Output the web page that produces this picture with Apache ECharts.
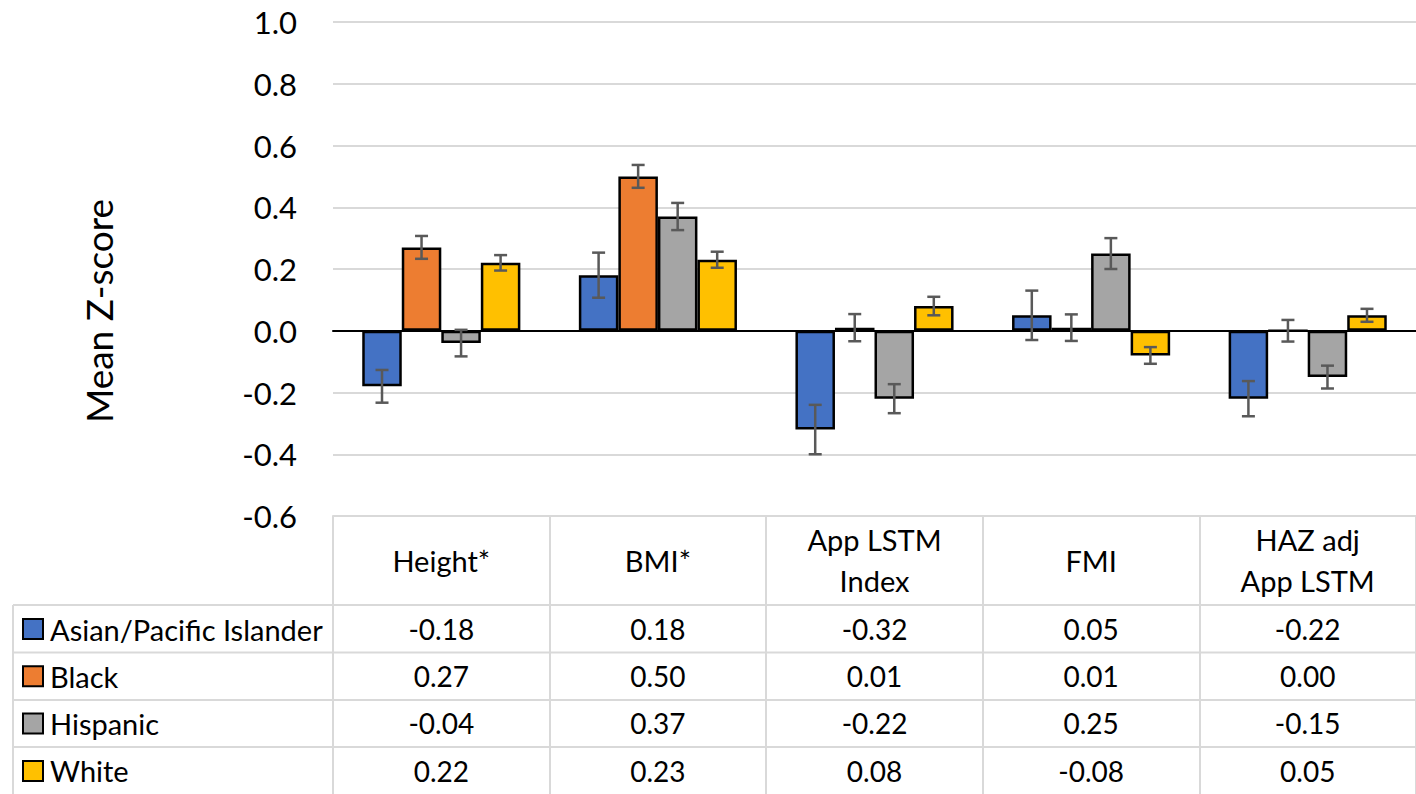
<!DOCTYPE html>
<html>
<head>
<meta charset="utf-8">
<script src="https://cdn.jsdelivr.net/npm/echarts@6/dist/echarts.min.js"></script>
<style>
  html, body { margin: 0; padding: 0; background: #fff; }
  #chart { width: 1416px; height: 794px; }
</style>
</head>
<body>
<div id="chart"></div>
<script>
var categories = ['Height*', 'BMI*', 'App LSTM\nIndex', 'FMI', 'HAZ adj\nApp LSTM'];
var groups = ['Asian/Pacific Islander', 'Black', 'Hispanic', 'White'];

var asianValues = [-0.18, 0.18, -0.32, 0.05, -0.22];
var blackValues = [0.27, 0.50, 0.01, 0.01, 0.00];
var hispanicValues = [-0.04, 0.37, -0.22, 0.25, -0.15];
var whiteValues = [0.22, 0.23, 0.08, -0.08, 0.05];

// half-length of the error bars
var asianErrors = [0.053, 0.073, 0.08, 0.08, 0.057];
var blackErrors = [0.037, 0.037, 0.044, 0.043, 0.035];
var hispanicErrors = [0.043, 0.044, 0.047, 0.05, 0.037];
var whiteErrors = [0.025, 0.026, 0.03, 0.027, 0.021];

var yMin = -0.6, yMax = 1.0, yStep = 0.2;

var colors = ['#4472C4', '#ED7D31', '#A5A5A5', '#FFC000'];
var FONT = 'Lato, "Open Sans", sans-serif';
var BAR_GAP = 0.27;
var GRID_LEFT = 333, GRID_TOP = 22, GRID_BOTTOM = 278;
var ROW_LINES = [605, 652.5, 700, 747];
var ROW_H = 47.3;
var LINE_COLOR = '#d9d9d9';

var chart = echarts.init(document.getElementById('chart'), null, {renderer: 'svg'});

var valueSets = [asianValues, blackValues, hispanicValues, whiteValues];
var errorSets = [asianErrors, blackErrors, hispanicErrors, whiteErrors];

function barSeries(idx) {
    return {
        name: groups[idx],
        type: 'bar',
        xAxisIndex: 0,
        barGap: 0,
        barCategoryGap: (BAR_GAP * 100) + '%',
        itemStyle: {color: colors[idx], borderColor: '#000', borderWidth: 2.5},
        emphasis: {disabled: true},
        data: valueSets[idx]
    };
}

function errorSeries(idx) {
    var values = valueSets[idx], errors = errorSets[idx];
    return {
        name: groups[idx] + ' error',
        type: 'custom',
        xAxisIndex: 0,
        z: 5,
        silent: true,
        encode: {x: 0, y: [1, 2]},
        data: values.map(function (v, i) {
            return [i, v - errors[i], v + errors[i]];
        }),
        renderItem: function (params, api) {
            var catW = api.size([1, 0])[0];
            var barW = catW * (1 - BAR_GAP) / 4;
            var off = (idx - 1.5) * barW;
            var lo = api.coord([api.value(0), api.value(1)]);
            var hi = api.coord([api.value(0), api.value(2)]);
            var x = lo[0] + off;
            var style = {stroke: '#595959', lineWidth: 2.5};
            return {
                type: 'group',
                children: [
                    {type: 'line', shape: {x1: x, y1: lo[1], x2: x, y2: hi[1]}, style: style},
                    {type: 'line', shape: {x1: x - 6.5, y1: lo[1], x2: x + 6.5, y2: lo[1]}, style: style},
                    {type: 'line', shape: {x1: x - 6.5, y1: hi[1], x2: x + 6.5, y2: hi[1]}, style: style}
                ]
            };
        }
    };
}

var series = [];
for (var i = 0; i < groups.length; i++) series.push(barSeries(i));
for (i = 0; i < groups.length; i++) series.push(errorSeries(i));

var option = {
    animation: false,
    color: colors,
    grid: {left: GRID_LEFT, right: 0, top: GRID_TOP, bottom: GRID_BOTTOM},
    legend: {
        data: groups,
        orient: 'vertical',
        left: 22,
        top: 614.5,
        padding: 0,
        itemWidth: 20,
        itemHeight: 20,
        itemGap: 18.3,
        icon: 'rect',
        selectedMode: false,
        textStyle: {fontFamily: FONT, fontSize: 29, lineHeight: 29, color: '#000', padding: [0, 0, 0, 2]}
    },
    xAxis: [
        {
            type: 'category',
            data: categories,
            position: 'bottom',
            axisLine: {onZero: false, lineStyle: {color: LINE_COLOR, width: 2}},
            axisTick: {show: true, length: 280, lineStyle: {color: LINE_COLOR, width: 2}},
            axisLabel: {
                interval: 0,
                margin: 44,
                verticalAlign: 'middle',
                fontFamily: FONT,
                fontSize: 29,
                lineHeight: 41,
                color: '#000'
            }
        },
        {
            type: 'category',
            data: categories,
            position: 'top',
            axisLine: {onZero: true, lineStyle: {color: '#000', width: 2}},
            axisTick: {show: false},
            axisLabel: {show: false}
        }
    ],
    yAxis: {
        type: 'value',
        min: yMin,
        max: yMax,
        interval: yStep,
        axisLine: {show: false},
        axisTick: {show: false},
        splitLine: {lineStyle: {color: LINE_COLOR, width: 2}},
        axisLabel: {
            margin: 36,
            fontFamily: FONT,
            fontSize: 31,
            color: '#000',
            formatter: function (v) { return v.toFixed(1); }
        }
    },
    series: series
};

chart.setOption(option);

// data table below the plot
var graphics = [];
var lineStyle = {stroke: LINE_COLOR, lineWidth: 2};
ROW_LINES.forEach(function (y) {
    graphics.push({type: 'line', silent: true, shape: {x1: 13, y1: y, x2: 1416, y2: y}, style: lineStyle});
});
graphics.push({type: 'line', silent: true, shape: {x1: 13, y1: ROW_LINES[0], x2: 13, y2: 794}, style: lineStyle});

categories.forEach(function (c, j) {
    var x = chart.convertToPixel({xAxisIndex: 0}, j);
    valueSets.forEach(function (vals, r) {
        graphics.push({
            type: 'text',
            silent: true,
            x: x,
            y: ROW_LINES[0] + ROW_H * (r + 0.5),
            style: {
                text: vals[j].toFixed(2),
                fill: '#000',
                font: '28px ' + FONT,
                align: 'center',
                verticalAlign: 'middle'
            }
        });
    });
});

graphics.push({
    type: 'text',
    silent: true,
    x: 98,
    y: 311,
    rotation: Math.PI / 2,
    style: {
        text: 'Mean Z-score',
        fill: '#000',
        font: '37px ' + FONT,
        align: 'center',
        verticalAlign: 'middle'
    }
});

chart.setOption({graphic: graphics});
</script>
</body>
</html>
